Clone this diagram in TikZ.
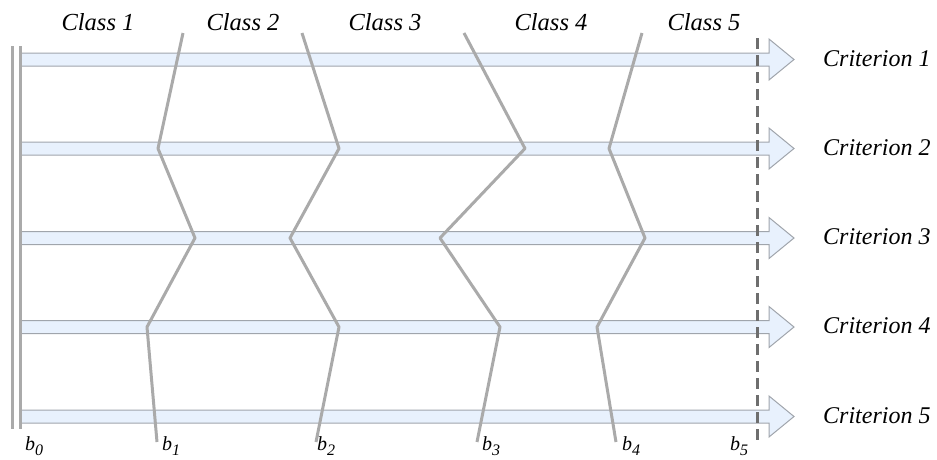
\documentclass[tikz,border=0pt]{standalone}
\usepackage{fontspec}
\setmainfont{Liberation Serif}
\definecolor{shaftfill}{RGB}{232,241,253}
\definecolor{shaftdraw}{RGB}{160,165,172}
\definecolor{boundgray}{RGB}{170,170,170}
\definecolor{limitgray}{RGB}{110,110,110}
\begin{document}
\begin{tikzpicture}[x=1pt,y=-1pt,
  critarrow/.style={draw=shaftdraw,fill=shaftfill,line width=1pt,line join=miter},
  bound/.style={draw=boundgray,line width=3pt,line join=round,line cap=butt},
  axisline/.style={draw=boundgray,line width=3pt},
  limitline/.style={draw=limitgray,line width=3pt,dash pattern=on 11pt off 6pt},
  classlbl/.style={inner sep=0pt,anchor=base,font=\fontsize{24.5}{26}\selectfont\itshape},
  critlbl/.style={inner sep=0pt,anchor=base west,font=\fontsize{24}{26}\selectfont\itshape},
  blbl/.style={inner sep=0pt,anchor=base west,font=\fontsize{20}{22}\selectfont\itshape}]
\useasboundingbox (0,0) rectangle (937,459);
% criterion arrows
\foreach \y [count=\i] in {59.5,148.5,238,327,416.5}{
  \coordinate (s\i) at (20,\y);
  \coordinate (t\i) at (794,\y);
  \draw[critarrow] (s\i) ++(0,-6.5) -- ++(749,0) -- ++(0,-14) -- (t\i) -- ++(-25,20.5) -- ++(0,-14) -- ++(-749,0) -- cycle;
  \node[critlbl] (crit\i) at (823,\y+6.5) {Criterion \i};
}
% left axis
\coordinate (a1) at (12,46); \coordinate (a2) at (12,429);
\coordinate (a3) at (20,46); \coordinate (a4) at (20,429);
\draw[axisline] (a1) -- (a2);
\draw[axisline] (a3) -- (a4);
% boundaries
\coordinate (p10) at (183,33); \coordinate (p11) at (158,148.5); \coordinate (p12) at (195,238); \coordinate (p13) at (147,327); \coordinate (p14) at (157,442);
\coordinate (p20) at (302,33); \coordinate (p21) at (339,148.5); \coordinate (p22) at (290,238); \coordinate (p23) at (339,327); \coordinate (p24) at (316,442);
\coordinate (p30) at (464,33); \coordinate (p31) at (525,148.5); \coordinate (p32) at (440,238); \coordinate (p33) at (500,327); \coordinate (p34) at (477,442);
\coordinate (p40) at (642,33); \coordinate (p41) at (609,148.5); \coordinate (p42) at (645,238); \coordinate (p43) at (597,327); \coordinate (p44) at (616,442);
\foreach \k in {1,2,3,4}{
  \draw[bound] (p\k0) -- (p\k1) -- (p\k2) -- (p\k3) -- (p\k4);
}
% upper limit
\coordinate (d1) at (757,38); \coordinate (d2) at (757,445);
\draw[limitline] (d1) -- (d2);
% class labels
\node[classlbl] (c1) at (98,30) {Class 1};
\node[classlbl] (c2) at (243,30) {Class 2};
\node[classlbl] (c3) at (385,30) {Class 3};
\node[classlbl] (c4) at (551,30) {Class 4};
\node[classlbl] (c5) at (704,30) {Class 5};
% boundary labels
\foreach \n/\x in {0/25,1/162,2/317,3/482,4/622,5/730}{
  \node[blbl] (bl\n) at (\x,450) {b\raisebox{-5pt}{\fontsize{16}{18}\selectfont\n}};
}
\end{tikzpicture}
\end{document}
